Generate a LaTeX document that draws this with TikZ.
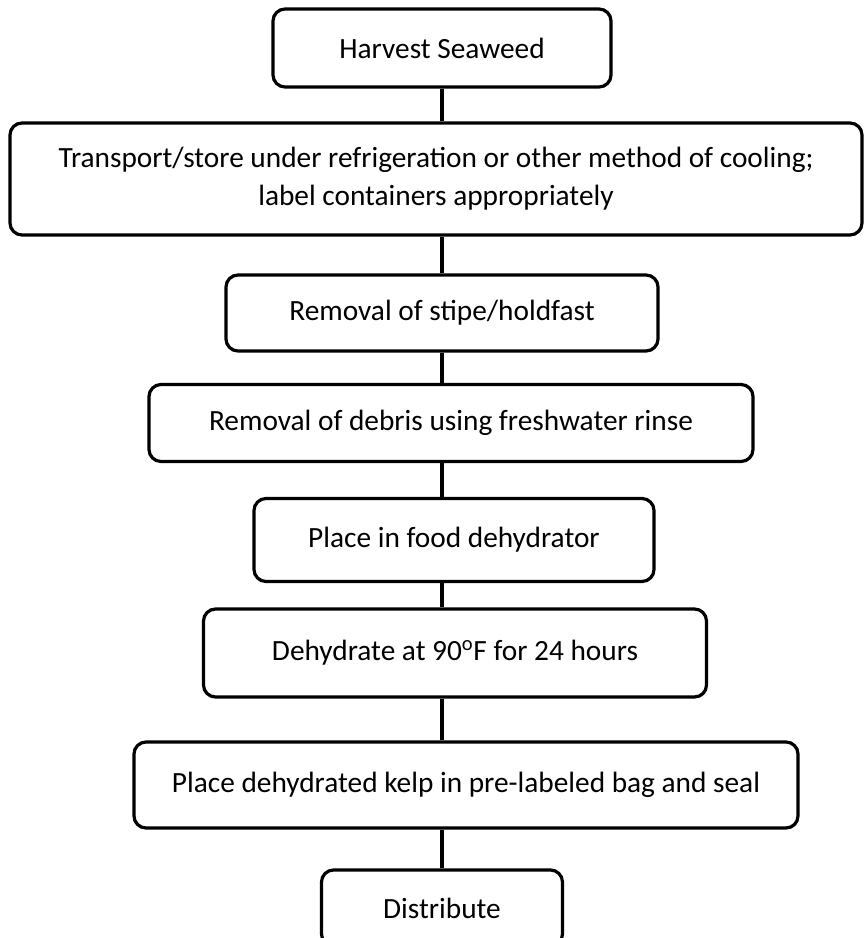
\documentclass[tikz,border=0pt]{standalone}
\usepackage{fontspec}
\setmainfont{Carlito}

\begin{document}
\begin{tikzpicture}[x=0.75pt,y=-0.75pt,line width=2.4pt]
    \useasboundingbox (0,0) rectangle (864,938);
    \clip (0,0) rectangle (864,938);
    \begin{scope}[every node/.style={draw,rounded corners=9pt,align=center,inner sep=0pt,font=\fontsize{22}{28.5}\selectfont}]
        \node[minimum width=253.5pt,minimum height=58.5pt](harvest) at (442,48) {Harvest Seaweed};
        \node[minimum width=639pt,minimum height=84pt](transport) at (436,179) {Transport/store under refrigeration or other method of cooling;\\ label containers appropriately};
        \node[minimum width=324pt,minimum height=57pt](stipe) at (442,313) {Removal of stipe/holdfast};
        \node[minimum width=453pt,minimum height=57.75pt](debris) at (451,423) {Removal of debris using freshwater rinse};
        \node[minimum width=300pt,minimum height=62.25pt](food) at (454,540) {Place in food dehydrator};
        \node[minimum width=377.25pt,minimum height=66pt](dehydrate) at (455,653) {Dehydrate at 90\textsuperscript{o}F for 24 hours};
        \node[minimum width=498pt,minimum height=64.5pt](bag) at (466,785) {Place dehydrated kelp in pre-labeled bag and seal};
        \node[minimum width=180.75pt,minimum height=57pt](distribute) at (442,908) {Distribute};
    \end{scope}
    \coordinate (spine) at (442,0);
    \draw (harvest.south -| spine) -- (transport.north -| spine);
    \draw (transport.south -| spine) -- (stipe.north -| spine);
    \draw (stipe.south -| spine) -- (debris.north -| spine);
    \draw (debris.south -| spine) -- (food.north -| spine);
    \draw (food.south -| spine) -- (dehydrate.north -| spine);
    \draw (dehydrate.south -| spine) -- (bag.north -| spine);
    \draw (bag.south -| spine) -- (distribute.north -| spine);
\end{tikzpicture}
\end{document}
